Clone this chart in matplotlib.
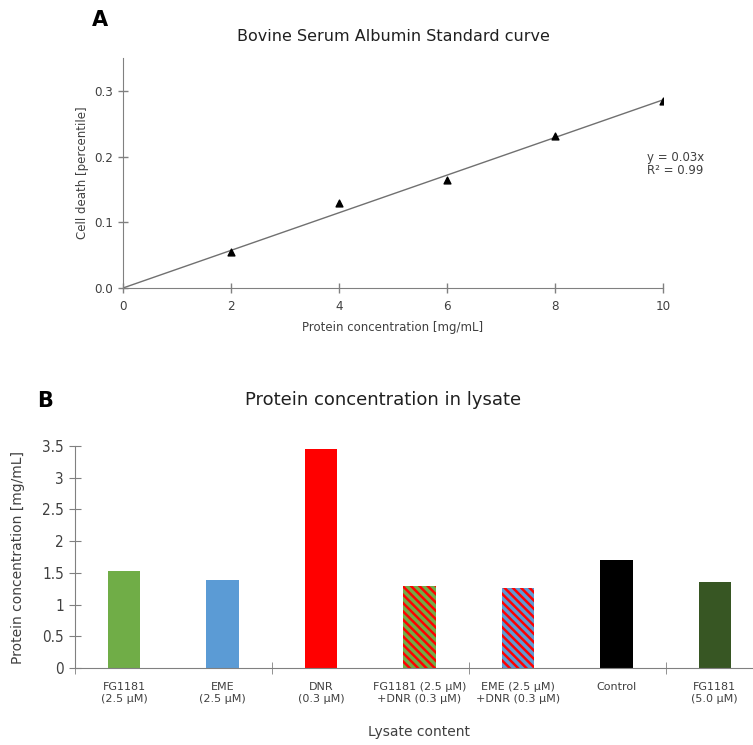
import numpy as np
import matplotlib
matplotlib.use("Agg")
import matplotlib.pyplot as plt

# ---- Data: panel A (standard curve) ----
std_conc = [2, 4, 6, 8, 10]
std_values = [0.055, 0.129, 0.164, 0.231, 0.284]
a_xticks = [0, 2, 4, 6, 8, 10]
a_yticks = [0.0, 0.1, 0.2, 0.3]

# ---- Data: panel B (lysate) ----
lysate_labels = ["FG1181\n(2.5 µM)", "EME\n(2.5 µM)", "DNR\n(0.3 µM)",
                 "FG1181 (2.5 µM)\n+DNR (0.3 µM)", "EME (2.5 µM)\n+DNR (0.3 µM)",
                 "Control", "FG1181\n(5.0 µM)"]
lysate_values = [1.53, 1.39, 3.45, 1.30, 1.26, 1.70, 1.35]
lysate_colors = ["#70AD47", "#5B9BD5", "#FF0000", "#70AD47", "#5B9BD5", "#000000", "#375623"]
lysate_hatch = [None, None, None, "#FF0000", "#FF0000", None, None]
b_yticks = [0, 0.5, 1, 1.5, 2, 2.5, 3, 3.5]
b_yticklabels = ["0", "0.5", "1", "1.5", "2", "2.5", "3", "3.5"]

TXT = "#404040"
AX = "#808080"
plt.rcParams['font.family'] = ['DejaVu Sans']
plt.rcParams['hatch.linewidth'] = 1.8
narrow = dict(family=['DejaVu Sans'], fontstretch='condensed')

fig = plt.figure(figsize=(7.53, 7.45), dpi=100)

# ---------------- Panel A ----------------
axA = fig.add_axes([123/753, 1-288/745, (663-123)/753, (288-58)/745])
slope = np.dot(std_conc, std_values) / np.dot(std_conc, std_conc)
xs = np.array([0, 10])
axA.plot(xs, slope*xs, color="#707070", lw=1.0, zorder=2)
axA.scatter(std_conc, std_values, marker="^", color="black", s=24, zorder=3)
axA.set_xlim(0, 10)
axA.set_ylim(0, 0.35)
axA.set_xticks(a_xticks)
axA.set_yticks(a_yticks)
axA.set_yticklabels([f"{v:.1f}" for v in a_yticks], fontsize=9.5, color=TXT, **narrow)
axA.set_xticklabels([str(v) for v in a_xticks], fontsize=9.5, color=TXT, **narrow)
for s in ["top", "right"]:
    axA.spines[s].set_visible(False)
for s in ["left", "bottom"]:
    axA.spines[s].set_color(AX)
axA.tick_params(axis="both", direction="inout", length=7, color=AX, width=1)
axA.tick_params(axis="x", pad=5)
axA.set_xlabel("Protein concentration [mg/mL]", fontsize=8.5, color=TXT, labelpad=6)
axA.set_ylabel("Cell death [percentile]", fontsize=8.5, color=TXT, labelpad=4)
axA.set_title("Bovine Serum Albumin Standard curve", fontsize=11.5, color="#202020", pad=12)
axA.text(9.7, 0.188, "y = 0.03x\nR² = 0.99", fontsize=8.5, color=TXT, va="center", ha="left",
         linespacing=1.0)
fig.text(92/753, 1-20/745, "A", fontsize=15, fontweight="bold", va="center", ha="left")

# ---------------- Panel B ----------------
axB = fig.add_axes([75/753, 1-668/745, (764-75)/753, (668-446)/745])
pos = np.arange(len(lysate_values))
for i, (v, c, h) in enumerate(zip(lysate_values, lysate_colors, lysate_hatch)):
    if h is None:
        axB.bar(pos[i], v, width=0.33, color=c, zorder=2)
    else:
        axB.bar(pos[i], v, width=0.33, facecolor=c, edgecolor=h, hatch="\\" * 4, lw=0, zorder=2)
axB.set_xlim(-0.5, len(lysate_values) - 0.5)
axB.set_ylim(0, 3.5)
axB.set_yticks(b_yticks)
axB.set_yticklabels(b_yticklabels, fontsize=11, color=TXT, **narrow)
axB.set_xticks(pos)
axB.set_xticklabels(lysate_labels, fontsize=8, color=TXT, linespacing=1.3)
axB.tick_params(axis="x", length=0, pad=10)
axB.set_xticks([-0.5, 1.5, 3.5, 5.5], minor=True)
axB.tick_params(axis="x", which="minor", direction="inout", length=8, color=AX)
axB.tick_params(axis="y", direction="inout", length=8, color=AX, pad=4)
for s in ["top", "right"]:
    axB.spines[s].set_visible(False)
for s in ["left", "bottom"]:
    axB.spines[s].set_color(AX)
axB.set_ylabel("Protein concentration [mg/mL]", fontsize=10, color=TXT, labelpad=12)
axB.set_xlabel("Lysate content", fontsize=10, color=TXT, labelpad=15)
fig.text(383/753, 1-400/745, "Protein concentration in lysate", fontsize=13, color="#202020",
         ha="center", va="center")
fig.text(37/753, 1-401/745, "B", fontsize=15, fontweight="bold", va="center", ha="left")

fig.savefig("out.png", dpi=100)
